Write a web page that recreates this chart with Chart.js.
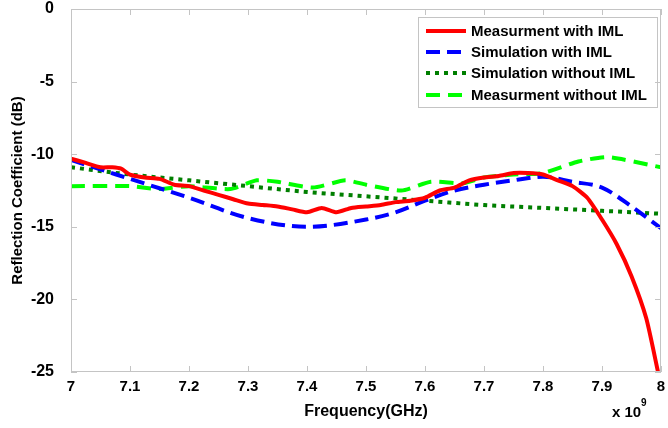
<!DOCTYPE html>
<html>
<head>
<meta charset="utf-8">
<script src="https://cdn.jsdelivr.net/npm/chart.js@4"></script>
<style>
  html, body { margin: 0; padding: 0; background: #fff; }
  #wrap { width: 668px; height: 428px; }
</style>
</head>
<body>
<div id="wrap"><canvas id="s11Chart" width="668" height="428"></canvas></div>
<script>
// frequency in GHz (axis is shown as x 10^9 Hz)
const xTicks = [7, 7.1, 7.2, 7.3, 7.4, 7.5, 7.6, 7.7, 7.8, 7.9, 8];
const xTickLabels = ["7", "7.1", "7.2", "7.3", "7.4", "7.5", "7.6", "7.7", "7.8", "7.9", "8"];
const yTicks = [0, -5, -10, -15, -20, -25];

const measWithFreq = [7.0, 7.025, 7.05, 7.07, 7.085, 7.1, 7.125, 7.15, 7.175, 7.2, 7.225, 7.25, 7.275, 7.3, 7.325, 7.35, 7.375, 7.4, 7.425, 7.45, 7.475, 7.5, 7.525, 7.55, 7.575, 7.6, 7.625, 7.65, 7.675, 7.7, 7.725, 7.75, 7.775, 7.8, 7.825, 7.85, 7.875, 7.9, 7.925, 7.95, 7.975, 7.995];
const measWithDb = [-10.3, -10.6, -10.9, -10.9, -11.0, -11.4, -11.6, -11.7, -12.1, -12.2, -12.5, -12.8, -13.1, -13.4, -13.5, -13.6, -13.8, -14.0, -13.7, -14.0, -13.7, -13.6, -13.5, -13.3, -13.2, -13.0, -12.5, -12.3, -11.8, -11.6, -11.5, -11.3, -11.3, -11.4, -11.8, -12.2, -13.0, -14.5, -16.2, -18.4, -21.3, -25.0];

const simWithFreq = [7.0, 7.1, 7.2, 7.3, 7.4, 7.5, 7.55, 7.6, 7.65, 7.7, 7.75, 7.8, 7.85, 7.9, 7.95, 8.0];
const simWithDb = [-10.4, -11.7, -13.0, -14.4, -15.0, -14.5, -14.0, -13.2, -12.5, -12.1, -11.8, -11.55, -11.9, -12.3, -13.6, -15.1];

const simWithoutFreq = [7.0, 7.1, 7.2, 7.3, 7.4, 7.5, 7.6, 7.7, 7.8, 7.9, 8.0];
const simWithoutDb = [-10.9, -11.4, -11.8, -12.2, -12.6, -12.9, -13.2, -13.5, -13.7, -13.9, -14.1];

const measWithoutFreq = [7.0, 7.1, 7.15, 7.2, 7.27, 7.315, 7.35, 7.41, 7.465, 7.5, 7.56, 7.61, 7.665, 7.7, 7.75, 7.8, 7.86, 7.91, 8.0];
const measWithoutDb = [-12.2, -12.2, -12.4, -12.2, -12.4, -11.8, -11.9, -12.3, -11.8, -12.1, -12.5, -11.9, -12.0, -11.6, -11.4, -11.3, -10.5, -10.2, -10.9];

const FONT = "'Liberation Sans', Arial, sans-serif";

function toPoints(xs, ys) {
  return xs.map((x, i) => ({ x, y: ys[i] }));
}

// box around the plot area with inward tick marks, MATLAB style
const frameBox = {
  id: "frameBox",
  afterDraw(chart) {
    const { ctx, chartArea: a, scales } = chart;
    ctx.save();
    ctx.strokeStyle = "#c4c4c4";
    ctx.lineWidth = 1;
    ctx.strokeRect(a.left + 0.5, a.top + 0.5, a.right - a.left - 1, a.bottom - a.top - 1);
    ctx.beginPath();
    xTicks.forEach((v) => {
      const px = Math.round(scales.x.getPixelForValue(v)) + 0.5;
      ctx.moveTo(px, a.bottom); ctx.lineTo(px, a.bottom - 6);
      ctx.moveTo(px, a.top); ctx.lineTo(px, a.top + 6);
    });
    yTicks.forEach((v) => {
      const py = Math.round(scales.y.getPixelForValue(v)) + 0.5;
      ctx.moveTo(a.left, py); ctx.lineTo(a.left + 6, py);
      ctx.moveTo(a.right, py); ctx.lineTo(a.right - 6, py);
    });
    ctx.stroke();

    // exponent note under the x axis
    ctx.fillStyle = "#000";
    ctx.textBaseline = "alphabetic";
    ctx.font = "bold 15px " + FONT;
    ctx.fillText("x 10", 612, 417);
    ctx.font = "bold 10px " + FONT;
    ctx.fillText("9", 641, 406);
    ctx.restore();
  },
};

// legend box in the upper right corner of the plot
const boxLegend = {
  id: "boxLegend",
  afterDatasetsDraw(chart) {
    const { ctx } = chart;
    const bx = 418, by = 17, bw = 239, bh = 90;
    const rows = [31, 52, 73, 95];
    ctx.save();
    ctx.fillStyle = "#fff";
    ctx.fillRect(bx, by, bw, bh);
    ctx.strokeStyle = "#c4c4c4";
    ctx.lineWidth = 1;
    ctx.strokeRect(bx + 0.5, by + 0.5, bw, bh);
    chart.data.datasets.forEach((ds, i) => {
      const y = rows[i];
      ctx.beginPath();
      ctx.setLineDash(ds.borderDash || []);
      ctx.strokeStyle = ds.borderColor;
      ctx.lineWidth = ds.borderWidth;
      ctx.moveTo(426, y);
      ctx.lineTo(466, y);
      ctx.stroke();
      ctx.setLineDash([]);
      ctx.fillStyle = "#000";
      ctx.font = "bold 15px " + FONT;
      ctx.textBaseline = "middle";
      ctx.fillText(ds.label, 471, y + 1);
    });
    ctx.restore();
  },
};

new Chart(document.getElementById("s11Chart"), {
  type: "line",
  data: {
    datasets: [
      {
        label: "Measurment with IML",
        data: toPoints(measWithFreq, measWithDb),
        borderColor: "#ff0000",
        borderWidth: 4,
        tension: 0.2,
      },
      {
        label: "Simulation with IML",
        data: toPoints(simWithFreq, simWithDb),
        borderColor: "#0000ff",
        borderWidth: 4,
        borderDash: [14, 7],
        cubicInterpolationMode: "monotone",
      },
      {
        label: "Simulation without IML",
        data: toPoints(simWithoutFreq, simWithoutDb),
        borderColor: "#007f00",
        borderWidth: 4,
        borderDash: [4, 5],
        cubicInterpolationMode: "monotone",
      },
      {
        label: "Measurment without IML",
        data: toPoints(measWithoutFreq, measWithoutDb),
        borderColor: "#00ff00",
        borderWidth: 4,
        borderDash: [14, 8],
        tension: 0.2,
      },
    ],
  },
  options: {
    responsive: false,
    animation: false,
    clip: 0,
    elements: { point: { radius: 0 } },
    layout: { padding: { top: 9, right: 7, left: 0, bottom: 0 } },
    plugins: { legend: { display: false }, tooltip: { enabled: false } },
    scales: {
      x: {
        type: "linear",
        min: 7,
        max: 8,
        grid: { display: false },
        border: { display: false },
        afterBuildTicks: (scale) => {
          scale.ticks = xTicks.map((v) => ({ value: v }));
        },
        afterFit: (scale) => {
          scale.height = 56;
          scale.paddingLeft = 0;
          scale.paddingRight = 0;
        },
        ticks: {
          color: "#000",
          padding: -2,
          maxRotation: 0,
          autoSkip: false,
          font: { family: FONT, size: 15, weight: "bold" },
          callback: (v) => xTickLabels[xTicks.indexOf(v)],
        },
        title: {
          display: true,
          text: "Frequency(GHz)",
          color: "#000",
          font: { family: FONT, size: 16, weight: "bold" },
          padding: { top: 0, bottom: 7 },
        },
      },
      y: {
        min: -25,
        max: 0,
        grid: { display: false },
        border: { display: false },
        afterBuildTicks: (scale) => {
          scale.ticks = yTicks.map((v) => ({ value: v }));
        },
        afterFit: (scale) => {
          scale.width = 71;
          scale.paddingTop = 0;
          scale.paddingBottom = 0;
        },
        ticks: {
          color: "#000",
          padding: 9,
          font: { family: FONT, size: 16, weight: "bold" },
        },
        title: {
          display: true,
          text: "Reflection Coefficient (dB)",
          color: "#000",
          font: { family: FONT, size: 15, weight: "bold" },
          padding: { top: 9, bottom: 0 },
        },
      },
    },
  },
  plugins: [frameBox, boxLegend],
});
</script>
</body>
</html>
